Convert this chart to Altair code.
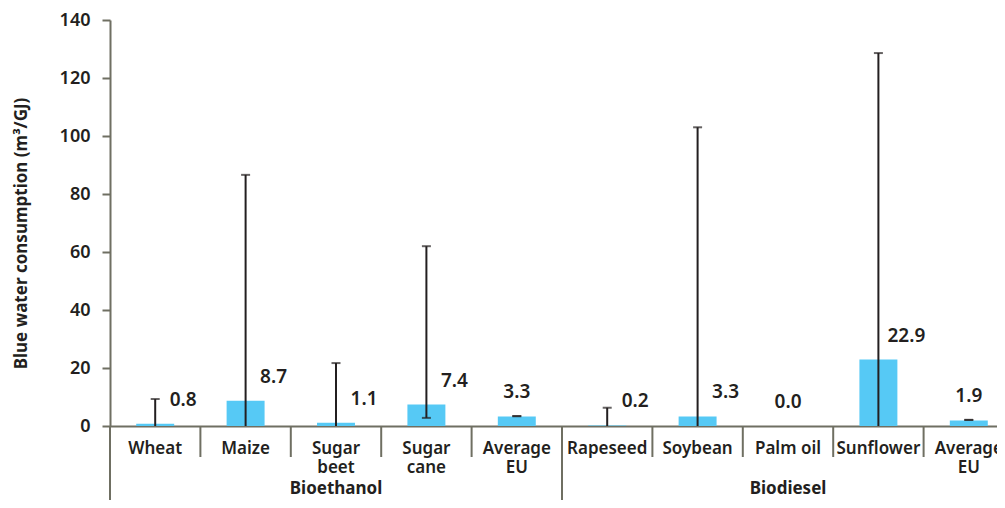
import json
import altair as alt
import pandas as pd

# ---- data ----
tick_labels = ["Wheat", "Maize", "Sugar\nbeet", "Sugar\ncane", "Average\nEU",
               "Rapeseed", "Soybean", "Palm oil", "Sunflower", "Average\nEU"]
groups = ["Bioethanol"] * 5 + ["Biodiesel"] * 5
values = [0.8, 8.7, 1.1, 7.4, 3.3, 0.2, 3.3, 0.0, 22.9, 1.9]
err_low = [0.0, 0.0, 0.0, 2.8, 3.4, 0.0, 0.0, None, 0.0, 2.1]
err_high = [9.3, 86.6, 21.7, 62.0, 3.4, 6.3, 103.0, None, 128.6, 2.1]
y_ticks = [0, 20, 40, 60, 80, 100, 120, 140]
group_names = ["Bioethanol", "Biodiesel"]

keys = [str(i) for i in range(len(tick_labels))]
df = pd.DataFrame({
    "key": keys,
    "crop": [t.replace("\n", " ") for t in tick_labels],
    "group": groups,
    "value": values,
    "low": err_low,
    "high": err_high,
})

# group start / centre categories
group_start = [keys[groups.index(g)] for g in group_names]
group_center = []
for g in group_names:
    idx = [i for i, gg in enumerate(groups) if gg == g]
    group_center.append(keys[idx[len(idx) // 2]])
sep_df = pd.DataFrame({"key": keys, "long": [k in group_start for k in keys]})
grp_df = pd.DataFrame({"key": group_center, "name": group_names})

lines = [t.split("\n") for t in tick_labels]
label_expr = json.dumps(lines) + "[toNumber(datum.value)]"

AX = "#6f6f62"
TXT = "#231f20"
BAR = "#56c9f5"
FONT = "Noto Sans"

H = 406

x_scale = alt.Scale(domain=keys, paddingInner=0, paddingOuter=0)
x_axis = alt.Axis(title=None, labelExpr=label_expr, labelAngle=0, ticks=False,
                  domainColor=AX, domainWidth=2, labelFontSize=17,
                  labelFont=FONT, labelFontWeight=600, labelColor=TXT,
                  labelLineHeight=19, labelPadding=14, labelBaseline="top")
y_scale = alt.Scale(domain=[0, 140], nice=False)
y_axis = alt.Axis(values=y_ticks, title="Blue water consumption (m³/GJ)",
                  grid=False, domainColor=AX, domainWidth=2, tickColor=AX,
                  tickWidth=2, tickSize=8, labelPadding=12, labelFontSize=18,
                  labelFont=FONT, labelFontWeight=600, labelColor=TXT,
                  titleFont=FONT, titleFontSize=17, titleFontWeight="bold",
                  titleColor=TXT, titleX=-89, titleY=213, titleAngle=-90,
                  titleAlign="center", titleBaseline="middle")

base = alt.Chart(df)
x_main = alt.X("key:N", scale=x_scale, axis=x_axis)

bars = base.mark_bar(width=alt.RelativeBandSize(0.42), color=BAR).encode(
    x=x_main,
    y=alt.Y("value:Q", scale=y_scale, axis=y_axis),
)

whisk = base.transform_filter("isValid(datum.high)").mark_rule(
    color=TXT, strokeWidth=2).encode(
    x=alt.X("key:N", scale=x_scale), y=alt.Y("low:Q", scale=y_scale), y2="high:Q")

cap_hi = base.transform_filter("isValid(datum.high)").mark_tick(
    color=TXT, size=9, thickness=2).encode(
    x=alt.X("key:N", scale=x_scale), y=alt.Y("high:Q", scale=y_scale))

cap_lo = base.transform_filter("isValid(datum.low) && datum.low > 0").mark_tick(
    color=TXT, size=9, thickness=2).encode(
    x=alt.X("key:N", scale=x_scale), y=alt.Y("low:Q", scale=y_scale))

lab_kw = dict(fontSize=19, font=FONT, fontWeight=600, color=TXT,
              baseline="middle", dy=-24)
lab_side = base.transform_filter("datum.high - datum.value > 1").mark_text(
    align="center", dx=28, **lab_kw).encode(
    x=alt.X("key:N", scale=x_scale), y=alt.Y("value:Q", scale=y_scale),
    text=alt.Text("value:Q", format=".1f"))
lab_mid = base.transform_filter("!(datum.high - datum.value > 1)").mark_text(
    align="center", dx=0, **lab_kw).encode(
    x=alt.X("key:N", scale=x_scale), y=alt.Y("value:Q", scale=y_scale),
    text=alt.Text("value:Q", format=".1f"))

sep_short = alt.Chart(sep_df).mark_rule(color=AX, strokeWidth=2).encode(
    x=alt.X("key:N", scale=x_scale, bandPosition=0),
    y=alt.value(H), y2=alt.value(H + 31))
sep_long = alt.Chart(sep_df).transform_filter("datum.long").mark_rule(
    color=AX, strokeWidth=2).encode(
    x=alt.X("key:N", scale=x_scale, bandPosition=0),
    y=alt.value(H), y2=alt.value(H + 100))

grp_text = alt.Chart(grp_df).mark_text(
    fontSize=17, font=FONT, fontWeight="bold", color=TXT, baseline="middle").encode(
    x=alt.X("key:N", scale=x_scale), y=alt.value(H + 63), text="name:N")

chart = alt.layer(bars, whisk, cap_hi, cap_lo, lab_side, lab_mid,
                  sep_short, sep_long, grp_text).properties(
    width=904, height=H,
    autosize=alt.AutoSizeParams(type="none"),
    padding={"left": 102, "top": 12, "right": -17, "bottom": 74},
).configure_view(stroke=None)

chart.save("out.html", embed_options={"renderer": "svg", "actions": False})
